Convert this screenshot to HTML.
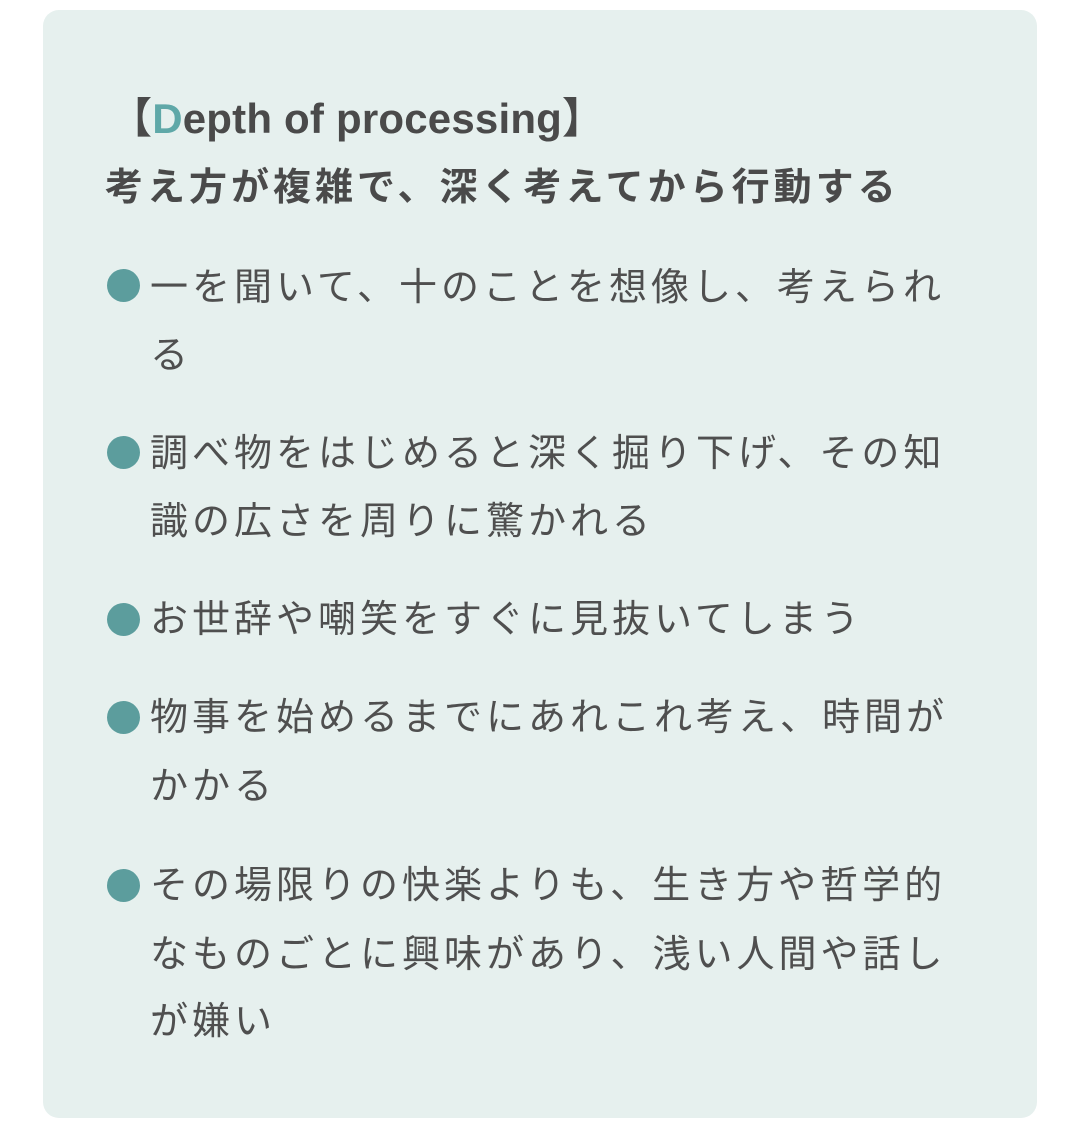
<!DOCTYPE html>
<html><head><meta charset="utf-8"><style>
body{margin:0;width:1080px;height:1128px;background:#fff;position:relative;overflow:hidden;font-family:"Liberation Sans","Noto Sans CJK JP",sans-serif;color:#4f4f4f}
.card{position:absolute;left:43px;top:10px;width:994px;height:1108px;background:#e6f0ee;border-radius:16px}
.l{position:absolute;left:150px;height:50px;line-height:50px;font-size:38px;letter-spacing:4px;white-space:nowrap}
.b{position:absolute;left:107px;width:33px;height:33px;border-radius:50%;background:#5c9d9d}
.t{position:absolute;left:105px;height:50px;line-height:50px;font-size:38px;font-weight:bold;letter-spacing:4px;white-space:nowrap;color:#4a4a4a}
</style></head><body>
<div class="card"></div>
<div class="t" style="top:94px;left:110px;font-size:42px;letter-spacing:0.2px">【<span style="color:#5fa8a8">D</span>epth of processing】</div>
<div class="t" style="top:163px">考え方が複雑で、深く考えてから行動する</div>

<div class="b" style="top:269px"></div>
<div class="l" style="top:263px">一を聞いて、十のことを想像し、考えられ</div>
<div class="l" style="top:331px">る</div>

<div class="b" style="top:436px"></div>
<div class="l" style="top:429px">調べ物をはじめると深く掘り下げ、その知</div>
<div class="l" style="top:497px">識の広さを周りに驚かれる</div>

<div class="b" style="top:603px"></div>
<div class="l" style="top:595px">お世辞や嘲笑をすぐに見抜いてしまう</div>

<div class="b" style="top:701px"></div>
<div class="l" style="top:693px">物事を始めるまでにあれこれ考え、時間が</div>
<div class="l" style="top:762px">かかる</div>

<div class="b" style="top:869px"></div>
<div class="l" style="top:861px">その場限りの快楽よりも、生き方や哲学的</div>
<div class="l" style="top:930px">なものごとに興味があり、浅い人間や話し</div>
<div class="l" style="top:997px">が嫌い</div>
</body></html>
